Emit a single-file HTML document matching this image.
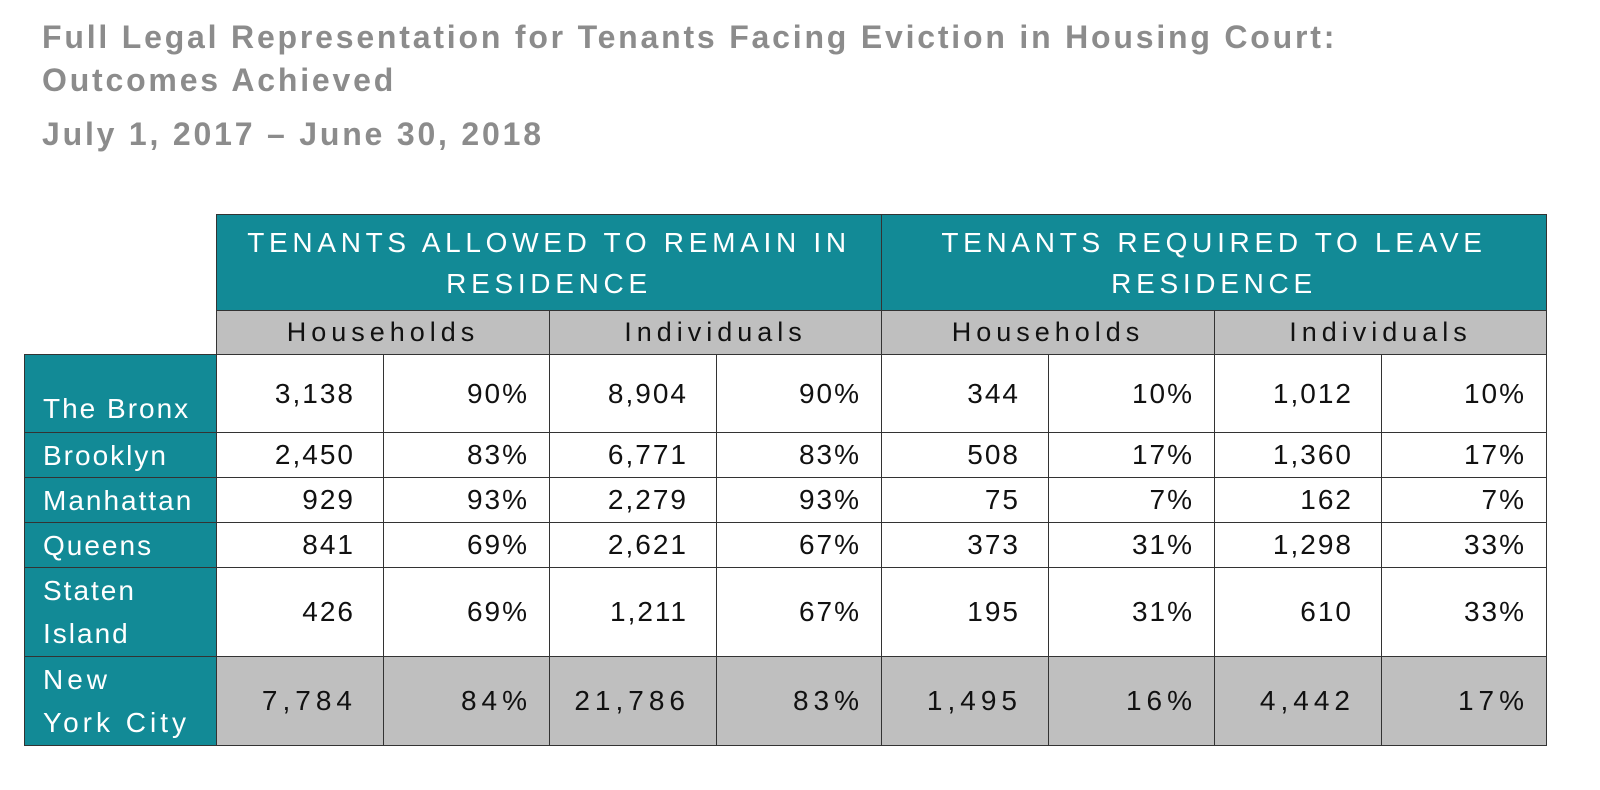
<!DOCTYPE html>
<html><head><meta charset="utf-8"><style>
body{margin:0;width:1600px;height:790px;background:#fff;position:relative;overflow:hidden;font-family:"Liberation Sans",sans-serif}
.t{position:absolute;left:42px;font-size:32px;font-weight:bold;color:#8c8c8c;white-space:nowrap;letter-spacing:2.8px}
.c{position:absolute;box-sizing:border-box;border:1px solid #333;font-size:28px;color:#111;display:flex;align-items:center;letter-spacing:2px}
.teal{background:#128a96;color:#fff}
.gray{background:#bfbfbf}
</style></head><body>
<div class="t" style="top:19px">Full Legal Representation for Tenants Facing Eviction in Housing Court:</div>
<div class="t" style="top:62px">Outcomes Achieved</div>
<div class="t" style="top:116px">July 1, 2017 – June 30, 2018</div>
<div id="tbl"></div>
<script>
const rows=["The Bronx","Brooklyn","Manhattan","Queens","Staten\nIsland","New\nYork City"];
const remainHH=["3,138","2,450","929","841","426","7,784"];
const remainHHPct=["90%","83%","93%","69%","69%","84%"];
const remainInd=["8,904","6,771","2,279","2,621","1,211","21,786"];
const remainIndPct=["90%","83%","93%","67%","67%","83%"];
const leaveHH=["344","508","75","373","195","1,495"];
const leaveHHPct=["10%","17%","7%","31%","31%","16%"];
const leaveInd=["1,012","1,360","162","1,298","610","4,442"];
const leaveIndPct=["10%","17%","7%","33%","33%","17%"];
const groups=["TENANTS ALLOWED TO REMAIN IN\nRESIDENCE","TENANTS REQUIRED TO LEAVE\nRESIDENCE"];
const subs=["Households","Individuals","Households","Individuals"];
const cols=[remainHH,remainHHPct,remainInd,remainIndPct,leaveHH,leaveHHPct,leaveInd,leaveIndPct];
const xs=[216,383,549,716,881,1048,1214,1381,1546];
const ys=[354,432,477,522,567,656,745];
const T=document.getElementById('tbl');
function cell(x,y,w,h,txt,cls,style){const d=document.createElement('div');d.className='c '+cls;d.style.cssText=`left:${x}px;top:${y}px;width:${w+1}px;height:${h+1}px;`+style;d.innerText=txt;T.appendChild(d);return d;}
groups.forEach((g,i)=>{const d=cell(xs[i*4],214,xs[i*4+4]-xs[i*4],96,g,'teal','justify-content:center;text-align:center;letter-spacing:4.7px;line-height:41px;font-size:28px;');

});
subs.forEach((s,i)=>{const d=cell(xs[i*2],310,xs[i*2+2]-xs[i*2],44,s,'gray','justify-content:center;letter-spacing:5px;font-size:27px;');

});
rows.forEach((r,ri)=>{const y=ys[ri],h=ys[ri+1]-ys[ri];const last=ri==rows.length-1;
const d=cell(24,y,192,h,r,'teal','padding-left:18px;line-height:43px;'+(ri==0?'align-items:flex-end;padding-bottom:2px;':'')+(last?'letter-spacing:4px;':''));


const pad=last?(ci=>ci%2?17:26):(ci=>ci%2?20:28);
cols.forEach((col,ci)=>{const e=cell(xs[ci],y,xs[ci+1]-xs[ci],h,col[ri],last?'gray':'','justify-content:flex-end;padding-right:'+pad(ci)+'px;'+(last?'letter-spacing:5px;':''));

});});
</script>
</body></html>
